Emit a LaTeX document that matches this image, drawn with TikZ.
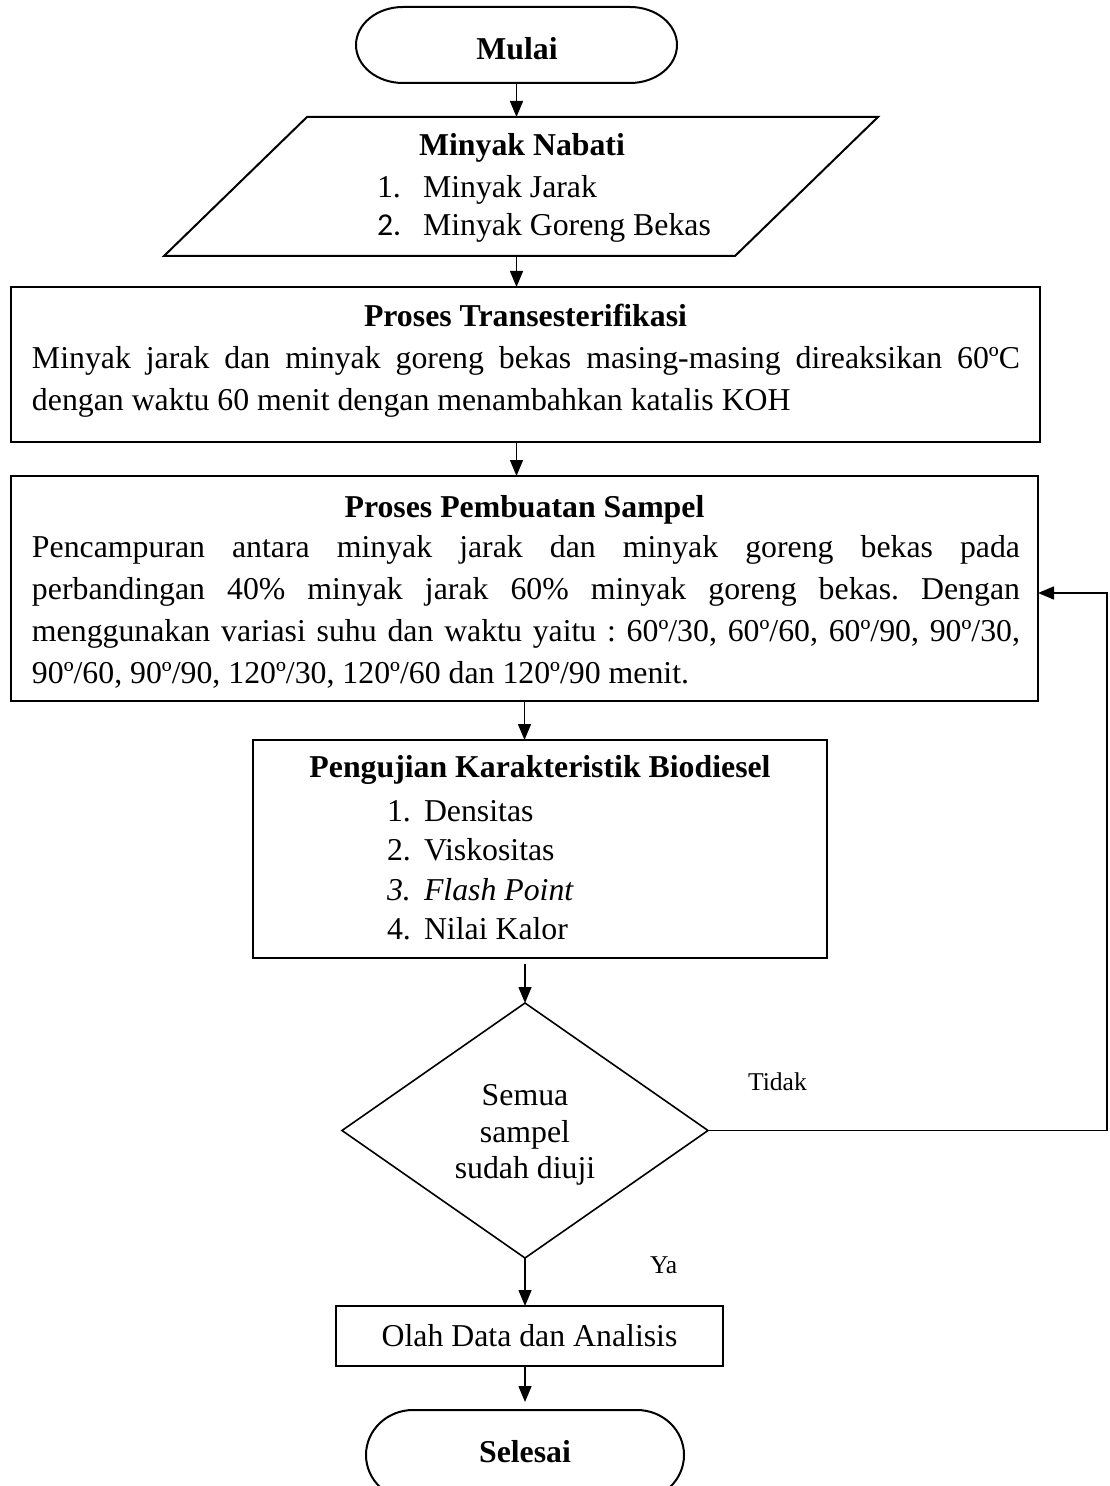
\documentclass[tikz,border=0pt]{standalone}
\usepackage{fontspec}
\setmainfont{Liberation Serif}
\newfontfamily\calibrifont{Carlito}
\usetikzlibrary{shapes.geometric,arrows.meta,calc}
\frenchspacing
\begin{document}
\begin{tikzpicture}[x=0.5pt,y=-0.5pt,
  txt/.style={inner sep=0pt,outer sep=0pt,font=\fontsize{15.9pt}{21pt}\selectfont},
  bold/.style={inner sep=0pt,outer sep=0pt,font=\fontsize{15.9pt}{21pt}\selectfont\bfseries},
  calib/.style={inner sep=0pt,outer sep=0pt,font=\fontsize{15.9pt}{21pt}\selectfont\calibrifont},
  ital/.style={inner sep=0pt,outer sep=0pt,font=\fontsize{15.9pt}{21pt}\selectfont\itshape},
  small/.style={inner sep=0pt,outer sep=0pt,font=\fontsize{12.8pt}{16pt}\selectfont},
  boxshape/.style={draw,line width=1pt,inner sep=0pt,outer sep=0pt},
  frame/.style={inner sep=0pt,outer sep=0pt},
  outline/.style={line width=1pt},
  arr/.style={-{Triangle[length=8pt,width=6.5pt]},line width=0.75pt}]
\useasboundingbox (0,0) rectangle (1109,1486);
\clip (0,0) rectangle (1109,1486);

% Mulai
\node[frame,minimum width=160.5pt,minimum height=38pt] (mulai) at (516.5,45) {};
\draw[outline] ($(mulai.north west)+(23.5pt,0pt)$) -- ($(mulai.north east)+(-23.5pt,0pt)$)
  arc[start angle=90,end angle=-90,x radius=23.5pt,y radius=19pt]
  -- ($(mulai.south west)+(23.5pt,0pt)$)
  arc[start angle=270,end angle=90,x radius=23.5pt,y radius=19pt] -- cycle;
\node[bold,anchor=base] (tmulai) at (517,60) {Mulai};

% Minyak Nabati
\node[frame,minimum width=357pt,minimum height=69.5pt] (nabati) at (521,186.5) {};
\draw[outline] ($(nabati.north west)+(71.5pt,0pt)$) -- (nabati.north east)
  -- ($(nabati.south east)+(-71.5pt,0pt)$) -- (nabati.south west) -- cycle;
\node[bold,anchor=base] (tnabati) at (522,156) {Minyak Nabati};
\node[txt,anchor=base west] (n1a) at (377,198) {1.};
\node[txt,anchor=base west] (n1b) at (423,198) {Minyak Jarak};
\node[calib,anchor=base west] (n2a) at (377,236) {2.};
\node[txt,anchor=base west] (n2b) at (423,236) {Minyak Goreng Bekas};

% Proses Transesterifikasi
\node[boxshape,minimum width=514.5pt,minimum height=77.5pt] (trans) at (525.5,364.5) {};
\node[bold,anchor=base] (ttrans) at (525.5,327) {Proses Transesterifikasi};
\node[txt,anchor=base west] (tr1) at (32,369) {\makebox[494pt][s]{Minyak jarak dan minyak goreng bekas masing-masing direaksikan 60ºC}};
\node[txt,anchor=base west] (tr2) at (32,410) {dengan waktu 60 menit dengan menambahkan katalis KOH};

% Proses Pembuatan Sampel
\node[boxshape,minimum width=513.5pt,minimum height=112.5pt] (pemb) at (524.5,588.5) {};
\node[bold,anchor=base] (tpemb) at (524.5,517) {Proses Pembuatan Sampel};
\node[txt,anchor=base west] (pb1) at (32,557) {\makebox[494pt][s]{Pencampuran antara minyak jarak dan minyak goreng bekas pada}};
\node[txt,anchor=base west] (pb2) at (32,599) {\makebox[494pt][s]{perbandingan 40\% minyak jarak 60\% minyak goreng bekas. Dengan}};
\node[txt,anchor=base west] (pb3) at (32,641) {\makebox[494pt][s]{menggunakan variasi suhu dan waktu yaitu : 60º/30, 60º/60, 60º/90, 90º/30,}};
\node[txt,anchor=base west] (pb4) at (32,683) {90º/60, 90º/90, 120º/30, 120º/60 dan 120º/90 menit.};

% Pengujian Karakteristik Biodiesel
\node[boxshape,minimum width=287pt,minimum height=109pt] (uji) at (540,849) {};
\node[bold,anchor=base] (tuji) at (540,777) {Pengujian Karakteristik Biodiesel};
\node[txt,anchor=base west] (u1a) at (387,821) {1.};
\node[txt,anchor=base west] (u1b) at (424,821) {Densitas};
\node[txt,anchor=base west] (u2a) at (387,860) {2.};
\node[txt,anchor=base west] (u2b) at (424,860) {Viskositas};
\node[ital,anchor=base west] (u3a) at (387,900) {3.};
\node[ital,anchor=base west] (u3b) at (424,900) {Flash Point};
\node[txt,anchor=base west] (u4a) at (387,939) {4.};
\node[txt,anchor=base west] (u4b) at (424,939) {Nilai Kalor};

% Decision
\node[diamond,draw,line width=0.8pt,inner sep=0pt,outer sep=0pt,minimum width=183pt,minimum height=127.5pt] (dec) at (525,1130.5) {};
\node[txt,anchor=base] (d1) at (525,1105) {Semua};
\node[txt,anchor=base] (d2) at (525,1142) {sampel};
\node[txt,anchor=base] (d3) at (525,1178) {sudah diuji};
\node[small,anchor=base west] (tidak) at (748,1090) {Tidak};
\node[small,anchor=base west] (ya) at (650,1273) {Ya};

% Olah Data
\node[boxshape,minimum width=193.5pt,minimum height=30pt] (olah) at (529.5,1336) {};
\node[txt,anchor=base] (tolah) at (529.5,1346) {Olah Data dan Analisis};

% Selesai
\node[frame,minimum width=159pt,minimum height=45pt] (sel) at (525,1455) {};
\draw[outline] ($(sel.north west)+(23.5pt,0pt)$) -- ($(sel.north east)+(-23.5pt,0pt)$)
  arc[start angle=90,end angle=-90,x radius=23.5pt,y radius=22.5pt]
  -- ($(sel.south west)+(23.5pt,0pt)$)
  arc[start angle=270,end angle=90,x radius=23.5pt,y radius=22.5pt] -- cycle;
\node[bold,anchor=base] (tsel) at (525,1462) {Selesai};

% Connectors
\draw[arr] (mulai.south) -- (mulai.south |- nabati.north);
\draw[arr] (nabati.south -| mulai.south) -- (trans.north -| mulai.south);
\draw[arr] (trans.south -| mulai.south) -- (pemb.north -| mulai.south);
\draw[arr] (pemb.south) -- (pemb.south |- uji.north);
\draw[arr,shorten <=3pt] (uji.south -| dec.north) -- (dec.north);
\draw[arr] (dec.south) -- (olah.north -| dec.south);
\draw[arr,shorten >=4pt] (olah.south -| sel.north) -- (sel.north);
\coordinate (fbb) at (1107,1130.5);
\coordinate (fbt) at (1107,593);
\draw[arr] (dec.east) -- (fbb) -- (fbt) -- (fbt -| pemb.east);
\end{tikzpicture}
\end{document}
